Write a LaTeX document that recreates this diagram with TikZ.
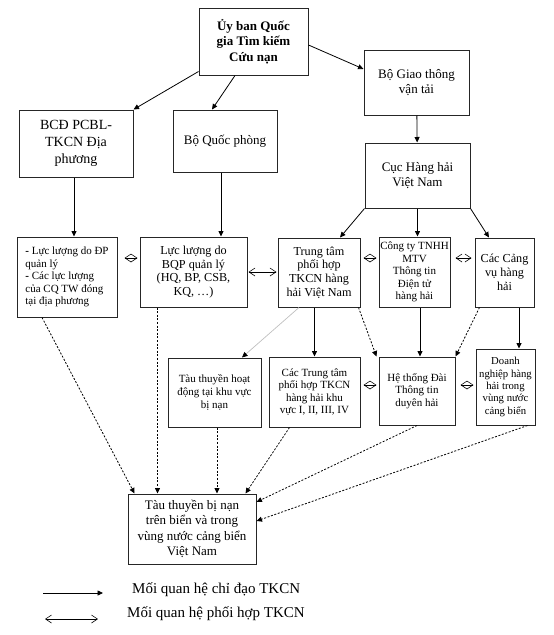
\documentclass[tikz,border=0pt]{standalone}
\usepackage{fontspec}
\setmainfont{Liberation Serif}
\usetikzlibrary{arrows.meta,calc,positioning}

\begin{document}
\begin{tikzpicture}[x=1pt, y=-1pt,
    box/.style={rectangle, draw=black!85, line width=1pt, align=center, inner sep=1pt},
    fA/.style={font=\fontsize{13}{15.8}\selectfont},
    fB/.style={font=\fontsize{12.2}{13.6}\selectfont},
    fC/.style={font=\fontsize{11}{12.6}\selectfont},
    chidao/.style={-{Triangle[length=5.5pt,width=5pt]}, line width=0.8pt},
    dashline/.style={chidao, dash pattern=on 2pt off 1.6pt},
    phoihop/.style={{Straight Barb[length=6pt,width=8pt]}-{Straight Barb[length=6pt,width=8pt]}, line width=0.6pt}]
    \useasboundingbox (0,0) rectangle (554,635);

    \node[box, minimum width=109pt, minimum height=67pt, font=\fontsize{13}{15.3}\selectfont\bfseries] (ubqg) at (253.5,41.5) {Ủy ban Quốc\\gia Tìm kiếm\\Cứu nạn};
    \node[box, fA, minimum width=105pt, minimum height=65pt] (gtvt) at (416.5,82.5) {Bộ Giao thông\\vận tải};
    \node[box, minimum width=114pt, minimum height=67pt, font=\fontsize{14}{16.7}\selectfont] (bcd) at (76,143.5) {BCĐ PCBL-\\TKCN Địa\\phương};
    \node[box, fA, minimum width=104pt, minimum height=62pt] (bqp) at (225,141) {Bộ Quốc phòng};
    \node[box, fA, minimum width=105pt, minimum height=65pt] (cuc) at (417.5,175.5) {Cục Hàng hải\\Việt Nam};

    \node[box, fC, align=left, minimum width=100pt, minimum height=80pt] (dp) at (67,277) {\textbf{-} Lực lượng do ĐP\\quản lý\\\textbf{-} Các lực lượng\\của CQ TW đóng\\tại địa phương};
    \node[box, fB, minimum width=107pt, minimum height=70pt] (llbqp) at (193.5,272) {Lực lượng do\\BQP quản lý\\(HQ, BP, CSB,\\KQ, …)};
    \node[box, fB, minimum width=82pt, minimum height=69pt] (ttph) at (319,272.5) {Trung tâm\\phối hợp\\TKCN hàng\\hải Việt Nam};
    \node[box, fC, minimum width=71pt, minimum height=70pt] (cty) at (414.5,272) {Công ty TNHH\\MTV\\Thông tin\\Điện tử\\hàng hải};
    \node[box, minimum width=59pt, minimum height=69pt, font=\fontsize{12.2}{14.2}\selectfont] (cangvu) at (504.5,272.5) {Các Cảng\\vụ hàng\\hải};

    \node[box, fC, minimum width=93pt, minimum height=69pt] (tauhd) at (214.5,392.5) {Tàu thuyền hoạt\\động tại khu vực\\bị nạn};
    \node[box, fC, minimum width=91pt, minimum height=70pt] (cactt) at (314.5,392) {Các Trung tâm\\phối hợp TKCN\\hàng hải khu\\vực I, II, III, IV};
    \node[box, fC, minimum width=76pt, minimum height=68pt] (hethong) at (417,391) {Hệ thống Đài\\Thông tin\\duyên hải};
    \node[box, minimum width=59pt, minimum height=76pt, font=\fontsize{10.7}{12.3}\selectfont] (dn) at (505.5,387) {Doanh\\nghiệp hàng\\hải trong\\vùng nước\\cảng biển};
    \node[box, minimum width=128pt, minimum height=70pt, font=\fontsize{13}{15.5}\selectfont] (taunan) at (192,529) {Tàu thuyền bị nạn\\trên biển và trong\\vùng nước cảng biển\\Việt Nam};

    \draw[chidao] ($(ubqg.south west)+(0,-4)$) -- (bcd.north east);
    \draw[chidao] ($(ubqg.south)+(-18.5,0)$) -- ($(bqp.north)+(-13,0)$);
    \draw[chidao] ($(ubqg.east)+(0,3.5)$) -- ($(gtvt.west)+(0,-13.5)$);
    \draw[chidao] (gtvt) -- (cuc);

    \draw[chidao] ($(bcd.south)+(-2,0)$) -- ($(bcd.south |- dp.north)+(-2,0)$);
    \draw[chidao] ($(bqp.south)+(-4,0)$) -- ($(bqp.south |- llbqp.north)+(-4,0)$);
    \draw[chidao] (cuc.south west) -- ($(ttph.north)+(21,0)$);
    \draw[chidao] (cuc.south) -- (cuc.south |- cty.north);
    \draw[chidao] (cuc.south east) -- ($(cangvu.north)+(-15.5,0)$);

    \draw[chidao] (ttph.south -| cactt.north) -- (cactt.north);
    \draw[black!25, line width=0.7pt, -{Triangle[length=5.5pt,width=5pt,black]}] ($(ttph.south)+(-20,0)$) -- ($(tauhd.north)+(27.5,0)$);
    \draw[dashline] ($(ttph.south east)+(-2,0)$) -- ($(hethong.north west)+(-2,0)$);
    \draw[chidao] ($(cty.south -| hethong.north)+(3,0)$) -- ($(hethong.north)+(3,0)$);
    \draw[dashline] ($(cangvu.south west)+(5,0)$) -- (hethong.north east);
    \draw[chidao] ($(cangvu.south)+(14.5,0)$) -- ($(cangvu.south |- dn.north)+(14.5,0)$);

    \draw[dashline] ($(dp.south)+(-25,0)$) -- ($(taunan.north west)+(7,0)$);
    \draw[dashline] ($(llbqp.south west)+(18,0)$) -- ($(llbqp.south west |- taunan.north)+(18,0)$);
    \draw[dashline] ($(tauhd.south)+(2.5,0)$) -- ($(tauhd.south |- taunan.north)+(2.5,0)$);
    \draw[dashline] ($(cactt.south west)+(21,0)$) -- ($(taunan.north east)+(-11,0)$);
    \draw[dashline] (hethong.south) -- ($(taunan.east)+(0,-27)$);
    \draw[dashline] ($(dn.south east)+(-8,0)$) -- ($(taunan.east)+(0,-8)$);

    \draw[phoihop, shorten <=7pt, shorten >=2pt] ($(dp.east)+(0,-19)$) -- ($(dp.east -| llbqp.west)+(0,-19)$);
    \draw[phoihop, shorten <=1pt, shorten >=1pt] (llbqp.east) -- (llbqp.east -| ttph.west);
    \draw[phoihop, shorten <=3pt, shorten >=2pt] ($(ttph.east)+(0,-14.5)$) -- ($(ttph.east -| cty.west)+(0,-14.5)$);
    \draw[phoihop, shorten <=5pt, shorten >=3pt] ($(cty.east)+(0,-14)$) -- ($(cty.east -| cangvu.west)+(0,-14)$);
    \draw[phoihop, shorten <=3pt, shorten >=2pt] ($(cactt.east)+(0,-7)$) -- ($(cactt.east -| hethong.west)+(0,-7)$);
    \draw[phoihop, shorten <=5pt, shorten >=2pt] ($(hethong.east)+(0,-6)$) -- ($(hethong.east -| dn.west)+(0,-6)$);

    \coordinate (lga) at (43,593);
    \coordinate (lgb) at (103,593);
    \draw[chidao] (lga) -- (lgb);
    \node[anchor=west, inner sep=0pt, font=\fontsize{15}{18}\selectfont] (lgchidao) at (132,590) {Mối quan hệ chỉ đạo TKCN};
    \coordinate (lgc) at (45,619);
    \coordinate (lgd) at (98,619);
    \draw[phoihop] (lgc) -- (lgd);
    \node[anchor=west, inner sep=0pt, font=\fontsize{15}{18}\selectfont] (lgphoihop) at (127,614) {Mối quan hệ phối hợp TKCN};
\end{tikzpicture}
\end{document}
